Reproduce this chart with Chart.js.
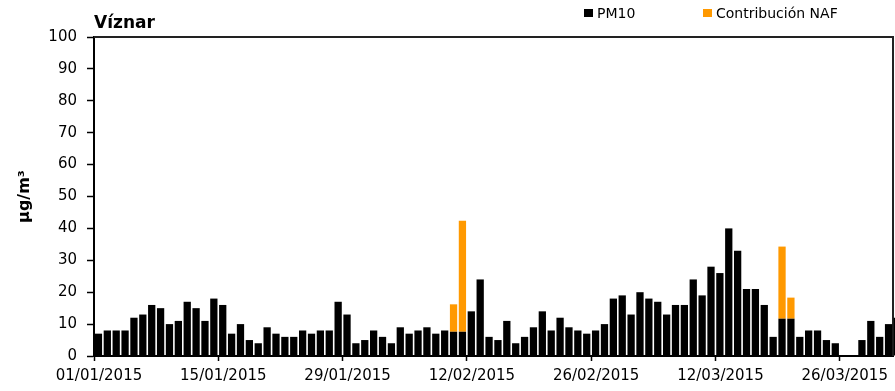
<!DOCTYPE html>
<html><head><meta charset="utf-8">
<script src="https://cdn.jsdelivr.net/npm/chart.js@4.4.1/dist/chart.umd.min.js"></script>
<style>html,body{margin:0;padding:0;background:#fff;overflow:hidden}</style>
</head><body>
<canvas id="c" width="895" height="391"></canvas>
<script>
const chartTitle = 'Víznar';
const yTitle = 'µg/m³';
const seriesNames = ['PM10', 'Contribución NAF'];
const seriesColors = ['#000000', '#FF9900'];
const dates = [
 '01/01/2015','02/01/2015','03/01/2015','04/01/2015','05/01/2015','06/01/2015','07/01/2015','08/01/2015','09/01/2015','10/01/2015',
 '11/01/2015','12/01/2015','13/01/2015','14/01/2015','15/01/2015','16/01/2015','17/01/2015','18/01/2015','19/01/2015','20/01/2015',
 '21/01/2015','22/01/2015','23/01/2015','24/01/2015','25/01/2015','26/01/2015','27/01/2015','28/01/2015','29/01/2015','30/01/2015',
 '31/01/2015','01/02/2015','02/02/2015','03/02/2015','04/02/2015','05/02/2015','06/02/2015','07/02/2015','08/02/2015','09/02/2015',
 '10/02/2015','11/02/2015','12/02/2015','13/02/2015','14/02/2015','15/02/2015','16/02/2015','17/02/2015','18/02/2015','19/02/2015',
 '20/02/2015','21/02/2015','22/02/2015','23/02/2015','24/02/2015','25/02/2015','26/02/2015','27/02/2015','28/02/2015','01/03/2015',
 '02/03/2015','03/03/2015','04/03/2015','05/03/2015','06/03/2015','07/03/2015','08/03/2015','09/03/2015','10/03/2015','11/03/2015',
 '12/03/2015','13/03/2015','14/03/2015','15/03/2015','16/03/2015','17/03/2015','18/03/2015','19/03/2015','20/03/2015','21/03/2015',
 '22/03/2015','23/03/2015','24/03/2015','25/03/2015','26/03/2015','27/03/2015','28/03/2015','29/03/2015','30/03/2015','31/03/2015',
 '01/04/2015'
];
const tickLabels = ['01/01/2015','15/01/2015','29/01/2015','12/02/2015','26/02/2015','12/03/2015','26/03/2015'];
const pm10 = [
 7,8,8,8,12,13,16,15,10,11,17,15,11,18,16,7,10,5,4,9,7,6,6,
 8,7,8,8,17,13,4,5,8,6,4,9,7,8,9,7,8,
 7.6,7.6,14,24,6,
 5,11,4,6,9,14,8,12,9,8,7,8,10,18,19,13,20,18,17,13,16,16,24,19,
 28,26,40,33,21,21,16,6,11.7,11.7,6,8,8,5,4,
 null,null,
 5,11,6,10,12
];
const naf = pm10.map(() => null);
naf[40] = 8.6; naf[41] = 34.8; naf[77] = 22.6; naf[78] = 6.6;
const yTicks = [0,10,20,30,40,50,60,70,80,90,100];

const FONT = '"DejaVu Sans", sans-serif';

const decor = {
  id: 'decor',
  beforeDatasetsDraw(chart) {
    const {ctx, chartArea: a} = chart;
    ctx.save();
    ctx.strokeStyle = '#222'; ctx.lineWidth = 2;
    ctx.beginPath();
    ctx.moveTo(a.left, a.top); ctx.lineTo(a.right, a.top); ctx.lineTo(a.right, a.bottom);
    ctx.stroke();
    ctx.restore();
  },
  afterDraw(chart) {
    const ctx = chart.ctx;
    ctx.save();
    ctx.fillStyle = '#000';
    ctx.textBaseline = 'alphabetic';
    ctx.font = 'bold 17px ' + FONT;
    ctx.fillText(chartTitle, 94, 28);
    const pos = [584, 703];
    ctx.font = '14px ' + FONT;
    chart.data.datasets.forEach((ds, i) => {
      ctx.fillStyle = ds.backgroundColor;
      ctx.fillRect(pos[i], 9, 9, 8);
      ctx.fillStyle = '#000';
      ctx.fillText(ds.label, pos[i] + 13, 18);
    });
    ctx.restore();
  }
};

new Chart(document.getElementById('c'), {
  type: 'bar',
  data: {
    datasets: [
      { label: seriesNames[0], data: pm10.map((v, i) => ({x: i + 0.5, y: v})), backgroundColor: seriesColors[0], borderWidth: 0, clip: false },
      { label: seriesNames[1], data: naf.map((v, i) => ({x: i + 0.5, y: v})), backgroundColor: seriesColors[1], borderWidth: 0, clip: false }
    ]
  },
  options: {
    responsive: false,
    animation: false,
    devicePixelRatio: 1,
    categoryPercentage: 1,
    barPercentage: 0.82,
    layout: { padding: { top: 37, right: 2, left: 0, bottom: 0 } },
    plugins: { legend: { display: false }, tooltip: { enabled: false }, title: { display: false } },
    scales: {
      x: {
        type: 'linear', stacked: true, min: 0, max: 90, offset: false,
        afterFit: s => { s.height = 35; },
        afterBuildTicks: s => { s.ticks = s.ticks.filter(t => t.value % 14 === 0 && tickLabels.includes(dates[t.value])); },
        ticks: { stepSize: 14, autoSkip: false, maxRotation: 0, padding: 6, labelOffset: 5,
                 color: '#000', font: { family: FONT, size: 15 },
                 callback: v => dates[v] },
        grid: { display: true, offset: false, drawOnChartArea: false, drawTicks: true, tickLength: 5, tickColor: '#000', tickWidth: 1.5 },
        border: { display: true, color: '#000', width: 2 }
      },
      y: {
        stacked: true, min: 0, max: 100,
        afterFit: s => { s.width = 94; },
        afterBuildTicks: s => { s.ticks = yTicks.map(v => ({value: v})); },
        ticks: { padding: 10, color: '#000', font: { family: FONT, size: 15 } },
        grid: { display: true, offset: false, drawOnChartArea: false, drawTicks: true, tickLength: 7, tickColor: '#000', tickWidth: 1.5 },
        border: { display: true, color: '#000', width: 2 },
        title: { display: true, text: yTitle, color: '#000', font: { family: FONT, size: 16, weight: 'bold' }, padding: { top: 15, bottom: 0 } }
      }
    }
  },
  plugins: [decor]
});
</script>
</body></html>
